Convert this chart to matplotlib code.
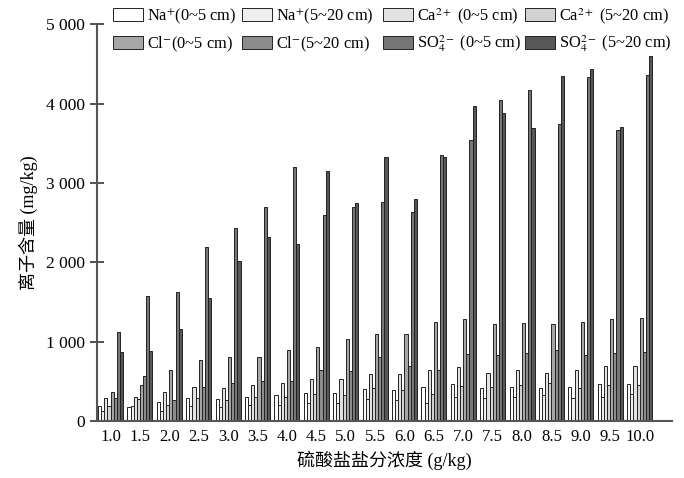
import matplotlib
matplotlib.use("Agg")
import matplotlib.pyplot as plt
import numpy as np

plt.rcParams["font.family"] = ["Liberation Serif", "Noto Sans CJK SC"]
plt.rcParams["mathtext.fontset"] = "stix"

concentrations = ["1.0", "1.5", "2.0", "2.5", "3.0", "3.5", "4.0", "4.5", "5.0", "5.5",
                  "6.0", "6.5", "7.0", "7.5", "8.0", "8.5", "9.0", "9.5", "10.0"]

na_0_5 = [193, 176, 243, 294, 273, 302, 323, 353, 353, 403,
          394, 428, 462, 411, 424, 411, 428, 470, 470]
na_5_20 = [126, 185, 130, 193, 176, 198, 202, 231, 223, 273,
           260, 231, 298, 285, 298, 323, 290, 302, 336]
ca_0_5 = [286, 298, 361, 432, 411, 457, 479, 533, 533, 596,
          588, 642, 684, 604, 642, 604, 642, 696, 696]
ca_5_20 = [185, 273, 198, 285, 265, 298, 298, 336, 327, 411,
           394, 340, 441, 432, 457, 482, 420, 453, 453]
cl_0_5 = [365, 457, 638, 764, 802, 810, 890, 928, 1029, 1096,
          1092, 1243, 1285, 1217, 1234, 1217, 1243, 1285, 1293]
cl_5_20 = [290, 563, 260, 432, 474, 500, 508, 642, 630, 806,
           693, 642, 848, 831, 856, 890, 827, 860, 865]
so4_0_5 = [1121, 1574, 1625, 2191, 2431, 2695, 3199, 2590, 2691, 2762,
           2632, 3350, 3539, 4039, 4165, 3741, 4337, 3665, 4362]
so4_5_20 = [865, 886, 1155, 1549, 2015, 2317, 2229, 3145, 2750, 3321,
            2792, 3329, 3967, 3879, 3694, 4345, 4429, 3703, 4597]

series = [na_0_5, na_5_20, ca_0_5, ca_5_20, cl_0_5, cl_5_20, so4_0_5, so4_5_20]
labels = [r"Na$^{+}$(0~5 cm)", r"Na$^{+}$(5~20 cm)",
          r"Ca$^{2+}$ (0~5 cm)", r"Ca$^{2+}$ (5~20 cm)",
          r"Cl$^{-}$(0~5 cm)", r"Cl$^{-}$(5~20 cm)",
          r"SO$_4^{2-}$ (0~5 cm)", r"SO$_4^{2-}$ (5~20 cm)"]
fills = ["#ffffff", "#efefef", "#e2e2e2", "#d2d2d2",
         "#a6a6a6", "#8c8c8c", "#767676", "#575757"]

fig = plt.figure(figsize=(6.84, 4.78), dpi=100)
ax = fig.add_axes([0.1418, 0.119, 0.8406, 0.8305])

x = np.arange(len(concentrations))
w = 0.106
handles = []
for j, (vals, fc) in enumerate(zip(series, fills)):
    b = ax.bar(x + (j - 3.5) * w, vals, width=w, color=fc,
               edgecolor="#222222", linewidth=0.7)
    handles.append(b)

ax.set_xlim(-0.46, 19.1)
ax.set_ylim(0, 5000)
ax.set_yticks([0, 1000, 2000, 3000, 4000, 5000])
ax.set_yticklabels(["0", "1 000", "2 000", "3 000", "4 000", "5 000"], fontsize=12.5)
ax.set_xticks(x)
ax.set_xticklabels(concentrations, fontsize=12)
ax.tick_params(axis="x", length=0, pad=6)
ax.tick_params(axis="y", direction="inout", length=10, width=1.2, color="#333333")

for side in ["top", "right"]:
    ax.spines[side].set_visible(False)
for side in ["left", "bottom"]:
    ax.spines[side].set_color("#555555")
    ax.spines[side].set_linewidth(1.5)

ax.set_ylabel("离子含量 (mg/kg)", fontsize=13)
ax.set_xlabel("硫酸盐盐分浓度 (g/kg)", fontsize=13, labelpad=4)
ax.yaxis.set_label_coords(-0.103, 0.5)

# one small legend per entry so both rows line up like the original
col_x = [113, 242, 383, 525]
row_y = [16, 44]
for k in range(8):
    row, col = divmod(k, 4)
    fig.legend([handles[k]], [labels[k]], loc="center left",
               bbox_to_anchor=(col_x[col] / 684, 1 - row_y[row] / 478),
               frameon=False, fontsize=11.8, handlelength=1.85, handleheight=0.8,
               handletextpad=0.2, borderpad=0, borderaxespad=0)

fig.savefig("out.png", dpi=100)
